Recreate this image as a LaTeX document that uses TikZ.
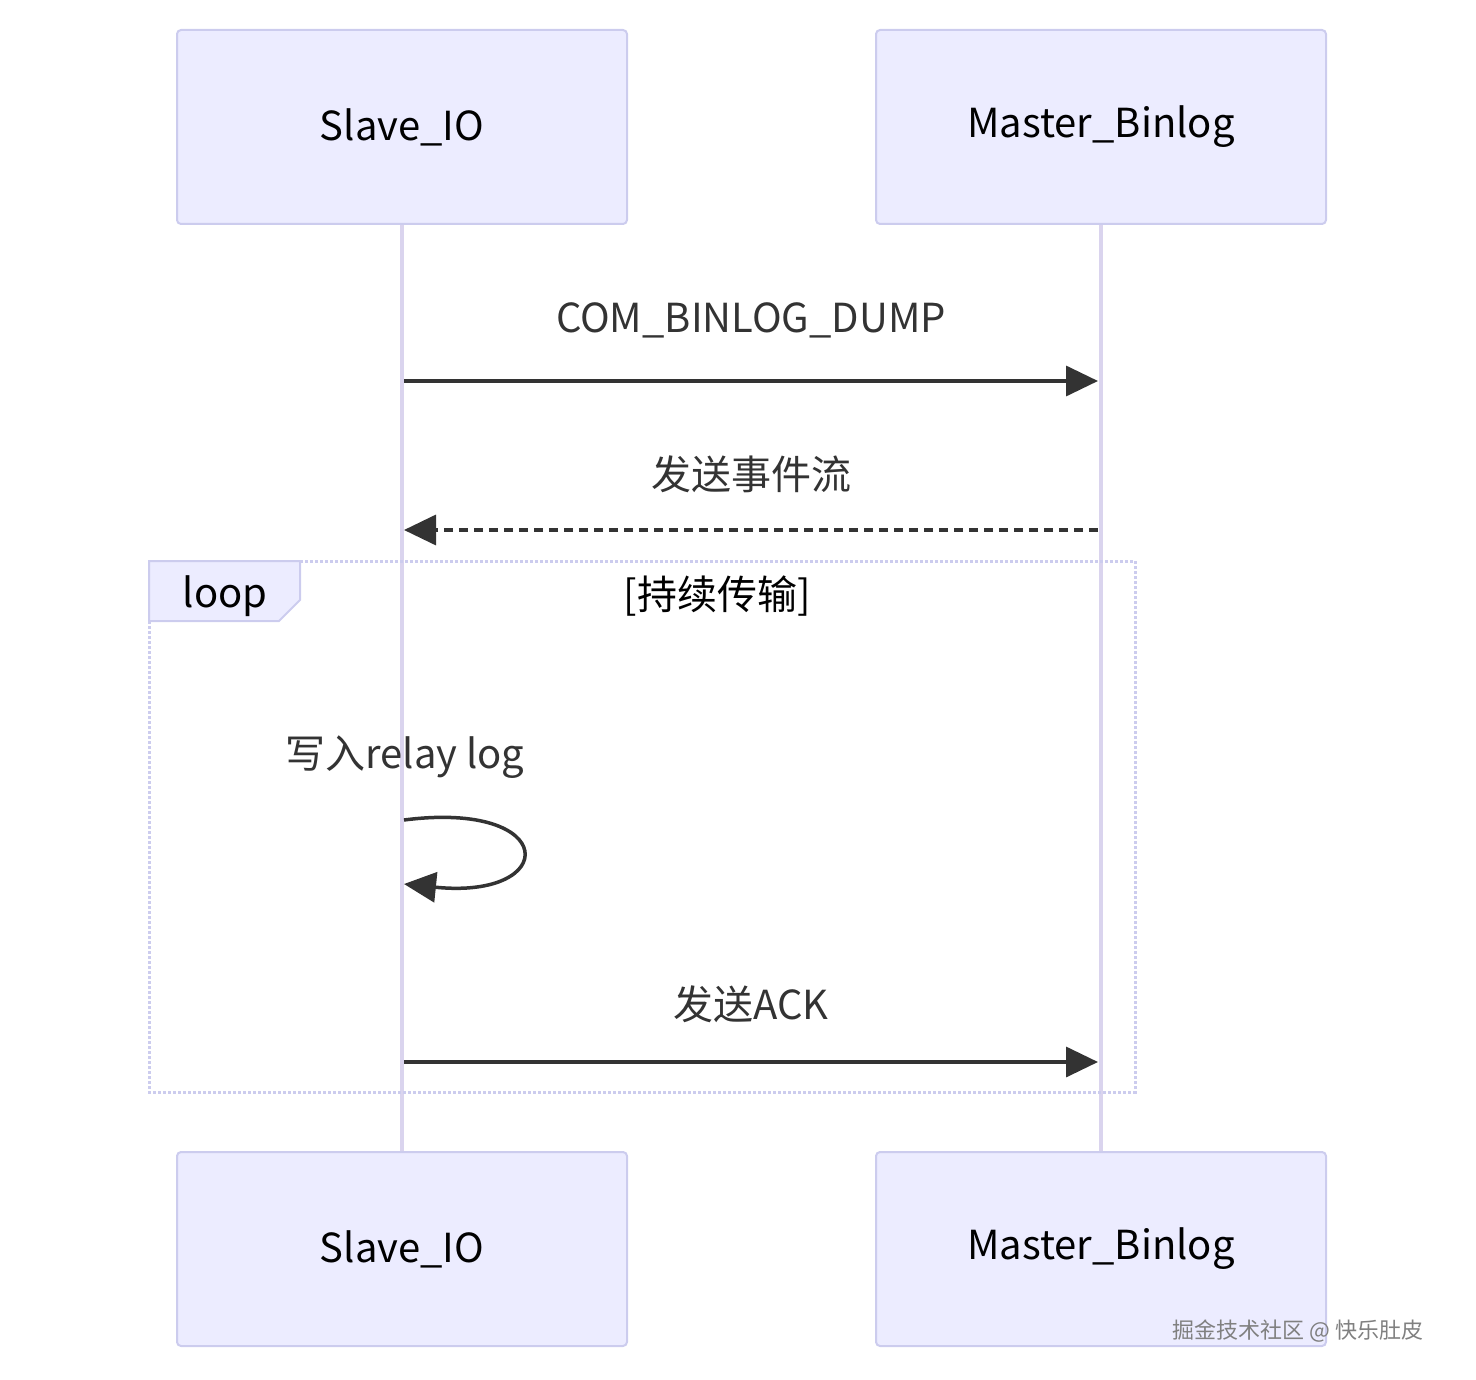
\documentclass[tikz,border=0pt]{standalone}
\usepackage{fontspec}
\setmainfont{Noto Sans CJK SC}
\usetikzlibrary{arrows.meta,positioning}
\definecolor{actfill}{HTML}{ECECFF}
\definecolor{actdraw}{HTML}{CCCCEE}
\definecolor{lifeln}{HTML}{DAD4EE}
\definecolor{msgcol}{HTML}{333333}
\tikzset{
  actor/.style={draw=actdraw,fill=actfill,line width=2pt,rounded corners=4pt,minimum width=450pt,minimum height=194pt,font=\fontsize{40}{48}\selectfont},
  msg/.style={msgcol,line width=3.5pt,-{Triangle[length=32pt,width=30pt]}},
  lbl/.style={text=msgcol,font=\fontsize{40}{48}\selectfont},
}
\begin{document}
\begin{tikzpicture}[x=1pt,y=-1pt]
  \useasboundingbox (0,0) rectangle (1476,1380);
  % actors
  \node[actor] (s1) at (402,127) {Slave\_IO};
  \node[actor] (m1) at (1101,127) {Master\_Binlog};
  \node[actor] (s2) at (402,1249) {Slave\_IO};
  \node[actor] (m2) at (1101,1249) {Master\_Binlog};
  \draw[lifeln,line width=3.5pt] (s1.south) -- (s2.north);
  \draw[lifeln,line width=3.5pt] (m1.south) -- (m2.north);
  % loop frame
  \draw[actdraw,line width=3pt,dotted] (149,561) rectangle (1135,1092);
  \draw[actdraw,fill=actfill,line width=2pt] (149,561) -- (300,561) -- (300,600) -- (279,621) -- (149,621) -- cycle;
  \node[lbl,text=black] (lp) at (225,596) {loop};
  \node[lbl,text=black] (cond) at (717,596) {[持续传输]};
  % messages
  \coordinate (a1) at (404,381); \coordinate (b1) at (1098,381);
  \draw[msg] (a1) -- (b1) node[lbl,midway,above=38pt] {COM\_BINLOG\_DUMP};
  \coordinate (a2) at (1098,530); \coordinate (b2) at (404,530);
  \draw[msg,dash pattern=on 9pt off 6pt] (a2) -- (b2) node[lbl,midway,above=32pt] {发送事件流};
  \coordinate (a3) at (404,820); \coordinate (b3) at (404,884);
  \node[lbl] (self) at (405,757) {写入relay log};
  \draw[msg] (a3) .. controls (560,800) and (560,900) .. (b3);
  \coordinate (a4) at (404,1062); \coordinate (b4) at (1098,1062);
  \draw[msg] (a4) -- (b4) node[lbl,midway,above=34pt] {发送ACK};
  \node[text=gray,font=\fontsize{22}{26}\selectfont] (wm) at (1298,1331) {掘金技术社区 @ 快乐肚皮};
\end{tikzpicture}
\end{document}
